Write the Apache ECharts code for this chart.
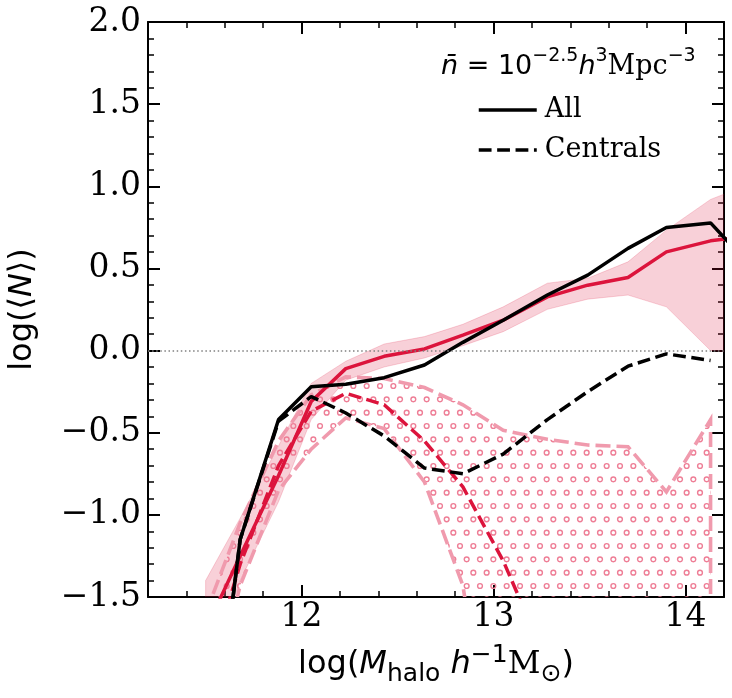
<!DOCTYPE html>
<html>
<head>
<meta charset="utf-8">
<script src="https://cdn.jsdelivr.net/npm/echarts@6/dist/echarts.min.js"></script>
<style>
html,body{margin:0;padding:0;background:#fff;}
#c{width:732px;height:698px;}
</style>
</head>
<body>
<div id="c"></div>
<script>
// ---------- data ----------
const massBins   = [11.50, 11.68, 11.88, 12.05, 12.23, 12.43, 12.64, 12.84, 13.05, 13.28, 13.49, 13.70, 13.90, 14.13, 14.35];
const allBlack   = [-2.85, -1.15, -0.42, -0.22, -0.205, -0.165, -0.088, 0.05, 0.185, 0.338, 0.459, 0.622, 0.749, 0.777, 0.50];
const cenBlack   = [-2.85, -1.15, -0.43, -0.28, -0.38, -0.52, -0.715, -0.75, -0.63, -0.42, -0.25, -0.095, -0.02, -0.06, null];
const allRed     = [-1.70, -1.25, -0.76, -0.31, -0.11, -0.035, 0.01, 0.094, 0.185, 0.327, 0.398, 0.445, 0.601, 0.668, 0.70];
const allRedLow  = [-2.05, -1.40, -0.92, -0.42, -0.18, -0.10, -0.045, 0.03, 0.115, 0.251, 0.313, 0.338, 0.266, 0.0, -0.02];
const allRedHigh = [-1.40, -1.02, -0.58, -0.20, -0.065, 0.04, 0.085, 0.16, 0.266, 0.41, 0.44, 0.54, 0.733, 0.92, 1.02];
const cenRed     = [-2.00, -1.30, -0.70, -0.37, -0.26, -0.33, -0.55, -0.83, -1.28, -1.90, null, null, null, null, null];
const cenRedLow  = [-2.30, -1.43, -0.85, -0.60, -0.41, -0.475, -0.80, -1.43, -3.0, -3.0, -3.0, -3.0, -3.0, -3.0];
const cenRedHigh = [-1.60, -1.05, -0.55, -0.27, -0.16, -0.17, -0.225, -0.33, -0.485, -0.54, -0.575, -0.585, -0.86, -0.42];
const xTickValues = [12, 13, 14];
const xMin = 11.2, xMax = 14.2;
const yMin = -1.5, yMax = 2.0, yStep = 0.5;

// ---------- helpers ----------
const pts = (ys) => massBins.slice(0, ys.length).map((x, i) => [x, ys[i]]);
const bandData = (lo, hi) => lo.map((v, i) => [massBins[i], v, hi[i]]);

function makeHatch() {
  const c = document.createElement('canvas');
  c.width = 40; c.height = 80;
  const g = c.getContext('2d');
  g.strokeStyle = '#EE7E96';
  g.lineWidth = 1.4;
  const s = 40 / 3;
  for (let j = -1; j <= 6; j++) {
    const y = 12.667 + s * j;
    const off = (j % 2 === 0) ? s / 2 : 0;
    for (let k = -1; k <= 3; k++) {
      g.beginPath();
      g.arc(off + s * k, y, 2.4, 0, Math.PI * 2);
      g.stroke();
    }
  }
  return c;
}

function polygonRenderer(style) {
  return function (params, api) {
    if (params.dataIndexInside !== 0) return null;
    const n = params.dataInsideLength;
    const top = [], bot = [];
    for (let i = 0; i < n; i++) {
      const x = api.value(0, i);
      bot.push(api.coord([x, api.value(1, i)]));
      top.push(api.coord([x, api.value(2, i)]));
    }
    const poly = top.concat(bot.reverse());
    return { type: 'polygon', shape: { points: poly }, style: style };
  };
}

const BLACK = '#000';
const CRIMSON = '#DC143C';
const LW = 3.5;
const dash = [12.8, 5.6];

const majorTick = { show: true, inside: true, length: 12, lineStyle: { color: BLACK, width: 2 } };
const minorTickX = { show: true, inside: true, length: 6, lineStyle: { color: BLACK, width: 1.5 } };
const spine = { show: true, onZero: false, lineStyle: { color: BLACK, width: 2 } };
const tickFont = { fontFamily: 'DejaVu Serif', fontSize: 33, color: BLACK };

const mainR = { fontFamily: 'DejaVu Sans', fontSize: 32, fontWeight: 'normal', color: BLACK, lineHeight: 44 };
const xNameRich = {
  r: mainR,
  i: Object.assign({}, mainR, { fontStyle: 'italic' }),
  m: Object.assign({}, mainR, { fontFamily: 'DejaVu Serif' }),
  sub: { fontFamily: 'DejaVu Sans', fontSize: 25, fontWeight: 'normal', color: BLACK, lineHeight: 28, verticalAlign: 'bottom' },
  sup: { fontFamily: 'DejaVu Sans', fontSize: 25, fontWeight: 'normal', color: BLACK, lineHeight: 28, verticalAlign: 'top' }
};
const yNameRich = {
  r: { fontFamily: 'DejaVu Sans', fontSize: 32, fontWeight: 'normal', color: BLACK, lineHeight: 40 },
  i: { fontFamily: 'DejaVu Sans', fontSize: 32, fontWeight: 'normal', color: BLACK, lineHeight: 40, fontStyle: 'italic' }
};
const titleRich = {
  r: { fontFamily: 'DejaVu Sans', fontSize: 27, fontWeight: 'normal', color: BLACK, lineHeight: 40 },
  i: { fontFamily: 'DejaVu Sans', fontSize: 27, fontWeight: 'normal', color: BLACK, lineHeight: 40, fontStyle: 'italic' },
  m: { fontFamily: 'DejaVu Serif', fontSize: 27, fontWeight: 'normal', color: BLACK, lineHeight: 40 },
  sup: { fontFamily: 'DejaVu Sans', fontSize: 19, fontWeight: 'normal', color: BLACK, lineHeight: 28, verticalAlign: 'top' }
};

const fmtY = v => (v < 0 ? '\u2212' : '') + Math.abs(v).toFixed(1);

const chart = echarts.init(document.getElementById('c'), null, { renderer: 'canvas' });
const hatch = makeHatch();

const option = {
  animation: false,
  backgroundColor: '#fff',
  grid: { left: 148, right: 8, top: 22, bottom: 101, containLabel: false, outerBoundsMode: 'none' },
  title: {
    text: '{i|n\u0304}{r| = 10}{sup|\u22122.5}{i|h}{sup|3}{m|Mpc}{sup|\u22123}',
    left: 441, top: 47, padding: 0,
    textStyle: { fontWeight: 'normal', rich: titleRich }
  },
  legend: {
    data: ['All', 'Centrals'],
    orient: 'vertical', left: 477, top: 95, padding: 0,
    itemWidth: 58, itemHeight: 30, itemGap: 10,
    selectedMode: false,
    itemStyle: { opacity: 0, borderWidth: 0 },
    lineStyle: { width: LW },
    textStyle: { fontFamily: 'DejaVu Serif', fontSize: 27, color: BLACK, lineHeight: 30, padding: [0, 0, 0, 3] }
  },
  xAxis: [
    {
      type: 'value', position: 'bottom', min: xMin, max: xMax, minInterval: 1, maxInterval: 1,
      axisLine: spine, axisTick: majorTick, splitLine: { show: false },
      axisLabel: Object.assign({ margin: 4, formatter: v => (xTickValues.indexOf(v) >= 0 ? String(v) : '') }, tickFont),
      name: '{r|log(}{i|M}{sub|halo}{r| }{i|h}{sup|\u22121}{m|M}{sub|\u2299}{r|)}',
      nameLocation: 'middle', nameGap: 46, nameTextStyle: { rich: xNameRich }
    },
    {
      type: 'value', position: 'bottom', min: xMin, max: xMax, interval: 0.2,
      axisLine: { show: false, onZero: false }, axisTick: minorTickX, axisLabel: { show: false }, splitLine: { show: false }
    },
    {
      type: 'value', position: 'top', min: xMin, max: xMax, minInterval: 1, maxInterval: 1,
      axisLine: spine, axisTick: majorTick, axisLabel: { show: false }, splitLine: { show: false }
    },
    {
      type: 'value', position: 'top', min: xMin, max: xMax, interval: 0.2,
      axisLine: { show: false, onZero: false }, axisTick: minorTickX, axisLabel: { show: false }, splitLine: { show: false }
    }
  ],
  yAxis: [
    {
      type: 'value', position: 'left', min: yMin, max: yMax, interval: yStep,
      axisLine: spine, axisTick: majorTick,
      minorTick: { show: true, splitNumber: 5, length: 6, lineStyle: { color: BLACK, width: 1.5 } },
      splitLine: { show: false }, minorSplitLine: { show: false },
      axisLabel: Object.assign({ margin: 7, formatter: fmtY }, tickFont),
      name: '{r|log(\u27e8}{i|N}{r|\u27e9)}',
      nameLocation: 'middle', nameRotate: 90, nameGap: 105, nameTextStyle: { rich: yNameRich }
    },
    {
      type: 'value', position: 'right', min: yMin, max: yMax, interval: yStep,
      axisLine: spine, axisTick: majorTick,
      minorTick: { show: true, splitNumber: 5, length: 6, lineStyle: { color: BLACK, width: 1.5 } },
      splitLine: { show: false }, minorSplitLine: { show: false },
      axisLabel: { show: false }
    }
  ],
  series: [
    {
      name: 'All band', type: 'custom', xAxisIndex: 0, yAxisIndex: 0, clip: true, silent: true,
      encode: { x: 0, y: [1, 2] },
      data: bandData(allRedLow, allRedHigh),
      renderItem: polygonRenderer({ fill: 'rgba(220,20,60,0.2)', stroke: 'rgba(220,20,60,0.18)', lineWidth: 1 }),
      z: 1
    },
    {
      name: 'Centrals band', type: 'custom', xAxisIndex: 0, yAxisIndex: 0, clip: true, silent: true,
      encode: { x: 0, y: [1, 2] },
      data: bandData(cenRedLow, cenRedHigh),
      renderItem: polygonRenderer({ fill: { image: hatch, repeat: 'repeat' }, stroke: '#F09AAD', lineWidth: 3.6, lineDash: [15, 6] }),
      z: 2
    },
    {
      name: 'All model', type: 'line', xAxisIndex: 0, yAxisIndex: 0, data: pts(allRed),
      symbol: 'none', lineStyle: { color: CRIMSON, width: LW }, itemStyle: { color: CRIMSON }, z: 3,
      markLine: {
        silent: true, symbol: ['none', 'none'], label: { show: false },
        lineStyle: { color: '#808080', width: 1.5, type: [1.5, 2.6] },
        data: [{ yAxis: 0 }]
      }
    },
    {
      name: 'Centrals model', type: 'line', xAxisIndex: 0, yAxisIndex: 0, data: pts(cenRed),
      symbol: 'none', lineStyle: { color: CRIMSON, width: LW, type: dash }, itemStyle: { color: CRIMSON }, z: 3
    },
    {
      name: 'All', type: 'line', xAxisIndex: 0, yAxisIndex: 0, data: pts(allBlack),
      symbol: 'none', lineStyle: { color: BLACK, width: LW }, itemStyle: { color: BLACK }, z: 4
    },
    {
      name: 'Centrals', type: 'line', xAxisIndex: 0, yAxisIndex: 0, data: pts(cenBlack),
      symbol: 'none', lineStyle: { color: BLACK, width: LW, type: dash }, itemStyle: { color: BLACK }, z: 4
    }
  ]
};
chart.setOption(option);
</script>
</body>
</html>
